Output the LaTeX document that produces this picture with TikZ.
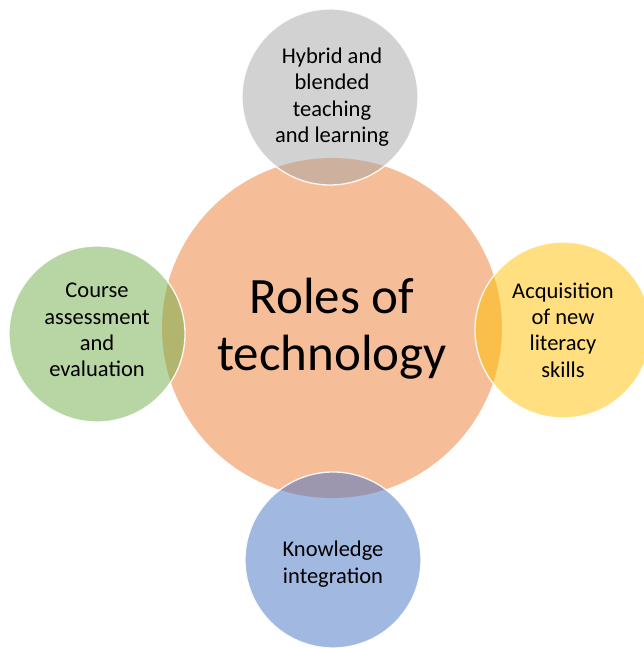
\documentclass[tikz,border=0pt]{standalone}
\usepackage{fontspec}
\setmainfont{Carlito}
\definecolor{cOrange}{HTML}{ED7D31}
\definecolor{cGray}{HTML}{A5A5A5}
\definecolor{cGreen}{HTML}{70AD47}
\definecolor{cYellow}{HTML}{FFC000}
\definecolor{cBlue}{HTML}{4472C4}
\tikzset{
  hub/.style={circle, fill=cOrange, fill opacity=0.5, minimum size=340pt, inner sep=0pt},
  hubtext/.style={align=center, inner sep=0pt, font=\fontsize{51}{57}\selectfont},
  sat/.style={circle, fill=#1, fill opacity=0.5, draw=white, draw opacity=0.9, line width=1.3pt,
    minimum size=176pt, inner sep=0pt},
  sattext/.style={align=center, inner sep=0pt, font=\fontsize{22.5}{26.3}\selectfont}
}
\begin{document}
\begin{tikzpicture}[x=1pt,y=1pt]
\useasboundingbox (0,0) rectangle (644,648);
\node[hub] (hub) at (332,320) {};
\node[sat=cGray] (top) at (330,551) {};
\node[sat=cGreen] (left) at (97,314) {};
\node[sat=cYellow] (right) at (563,318) {};
\node[sat=cBlue] (bottom) at (333,88) {};
\node[hubtext] (hubtxt) at (332,319) {Roles of\\technology};
\node[sattext] (toptxt) at (332,551) {Hybrid and\\blended\\teaching\\and learning};
\node[sattext] (lefttxt) at (97,318) {Course\\assessment\\and\\evaluation};
\node[sattext] (righttxt) at (563,318) {Acquisition\\of new\\literacy\\skills};
\node[sattext] (bottomtxt) at (333,84) {Knowledge\\integration};
\end{tikzpicture}
\end{document}
